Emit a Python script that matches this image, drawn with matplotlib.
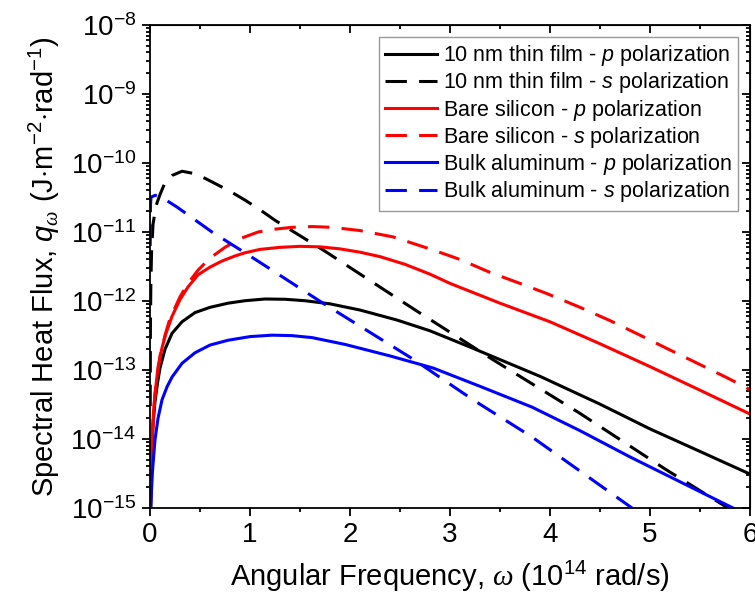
import matplotlib
matplotlib.use("Agg")
from matplotlib import pyplot as plt
from matplotlib.ticker import LogLocator, MultipleLocator, NullFormatter

plt.rcParams['font.family'] = ['Liberation Sans', 'DejaVu Sans']
plt.rcParams['mathtext.fontset'] = 'custom'
plt.rcParams['mathtext.rm'] = 'Liberation Sans'
plt.rcParams['mathtext.it'] = 'Liberation Sans:italic'
plt.rcParams['mathtext.cal'] = 'Liberation Serif:italic'  # serif omega as in the original

# 10 nm thin film
film_p_x = [0.006, 0.015, 0.03, 0.05, 0.075, 0.1, 0.15, 0.22, 0.32, 0.45, 0.6, 0.78, 0.95, 1.15, 1.35,
            1.55, 1.8, 2.1, 2.47, 2.8, 3.2, 3.9, 4.5, 5.0, 5.5, 6.0]
film_p_q = [1e-15, 5e-15, 1.6e-14, 3.5e-14, 6.5e-14, 1.07e-13, 2.0e-13, 3.4e-13, 5.0e-13, 6.8e-13,
            8.1e-13, 9.3e-13, 1.01e-12, 1.07e-12, 1.06e-12, 1.01e-12, 9.1e-13, 7.4e-13, 5.3e-13,
            3.7e-13, 2.15e-13, 8.1e-14, 3.2e-14, 1.4e-14, 6.6e-15, 3.1e-15]
film_s_x = [0.002, 0.004, 0.008, 0.015, 0.03, 0.06, 0.1, 0.15, 0.22, 0.32, 0.45, 0.55, 0.68, 0.8, 0.95,
            1.1, 1.25, 1.73, 2.64, 3.43, 4.29, 5.16, 5.78]
film_s_q = [3e-14, 4e-13, 1.6e-12, 5e-12, 1.3e-11, 2.4e-11, 3.5e-11, 5.2e-11, 6.6e-11, 7.6e-11, 7.0e-11,
            6.0e-11, 4.8e-11, 3.9e-11, 2.9e-11, 2.1e-11, 1.48e-11, 5.5e-12, 7.6e-13, 1.41e-13, 2.4e-14,
            3.6e-15, 1.0e-15]

# bare silicon
si_p_x = [0.005, 0.01, 0.02, 0.035, 0.05, 0.08, 0.12, 0.16, 0.22, 0.3, 0.38, 0.48, 0.6, 0.72, 0.85,
          0.95, 1.1, 1.3, 1.5, 1.7, 1.9, 2.1, 2.3, 2.55, 2.8, 3.0, 3.5, 4.0, 4.5, 5.0, 5.5, 6.0]
si_p_q = [1e-15, 3e-15, 1e-14, 2.5e-14, 4.5e-14, 1.1e-13, 2.1e-13, 3.4e-13, 6e-13, 1.05e-12, 1.6e-12,
          2.4e-12, 3.1e-12, 3.8e-12, 4.5e-12, 5.0e-12, 5.6e-12, 6.0e-12, 6.2e-12, 6.1e-12, 5.7e-12,
          5.1e-12, 4.4e-12, 3.4e-12, 2.45e-12, 1.8e-12, 9.3e-13, 5.0e-13, 2.4e-13, 1.12e-13, 5.1e-14, 2.3e-14]
si_s_x = [0.005, 0.01, 0.02, 0.05, 0.1, 0.15, 0.2, 0.3, 0.38, 0.48, 0.6, 0.75, 0.9, 1.08, 1.25, 1.42,
          1.62, 1.82, 2.1, 2.43, 2.83, 3.1, 3.4, 3.7, 3.97, 4.3, 4.6, 4.9, 5.2, 5.47, 5.78, 6.0]
si_s_q = [1e-15, 3e-15, 1e-14, 4.5e-14, 1.6e-13, 3.2e-13, 5.6e-13, 1.15e-12, 1.8e-12, 2.8e-12, 4.2e-12,
          6.0e-12, 8.0e-12, 1.0e-11, 1.1e-11, 1.17e-11, 1.2e-11, 1.17e-11, 1.05e-11, 8.5e-12, 5.5e-12,
          4.0e-12, 2.6e-12, 1.8e-12, 1.28e-12, 8.1e-13, 5.2e-13, 3.2e-13, 1.95e-13, 1.26e-13, 7.6e-14, 5.2e-14]

# bulk aluminum
al_p_x = [0.008, 0.015, 0.025, 0.05, 0.08, 0.12, 0.17, 0.22, 0.32, 0.45, 0.6, 0.78, 1.0, 1.22, 1.42,
          1.62, 1.95, 2.4, 2.83, 3.3, 3.82, 4.3, 4.8, 5.3, 5.83]
al_p_q = [1e-15, 1.8e-15, 3.5e-15, 9.8e-15, 2.0e-14, 3.7e-14, 5.7e-14, 7.9e-14, 1.25e-13, 1.78e-13,
          2.3e-13, 2.7e-13, 3.05e-13, 3.2e-13, 3.15e-13, 2.95e-13, 2.35e-13, 1.6e-13, 1.07e-13, 5.8e-14,
          2.9e-14, 1.32e-14, 5.5e-15, 2.4e-15, 1.0e-15]
al_s_x = [0.002, 0.005, 0.01, 0.05, 0.1, 0.27, 0.62, 0.95, 1.22, 1.73, 2.64, 3.23, 3.82, 4.82]
al_s_q = [6.3e-12, 2.5e-11, 3.2e-11, 3.4e-11, 3.3e-11, 2.3e-11, 1.0e-11, 5.0e-12, 2.8e-12, 9.3e-13,
          1.41e-13, 3.7e-14, 1.07e-14, 1.0e-15]

labels = ['10 nm thin film - $p$ polarization',
          '10 nm thin film - $s$ polarization',
          'Bare silicon - $p$ polarization',
          'Bare silicon - $s$ polarization',
          'Bulk aluminum - $p$ polarization',
          'Bulk aluminum - $s$ polarization']

yticks = [1e-15, 1e-14, 1e-13, 1e-12, 1e-11, 1e-10, 1e-9, 1e-8]
ytick_labels = ['$\\mathregular{10^{-15}}$', '$\\mathregular{10^{-14}}$', '$\\mathregular{10^{-13}}$',
                '$\\mathregular{10^{-12}}$', '$\\mathregular{10^{-11}}$', '$\\mathregular{10^{-10}}$',
                '$\\mathregular{10^{-9}}$', '$\\mathregular{10^{-8}}$']
xticks = [0, 1, 2, 3, 4, 5, 6]

DASH = (0, (7, 4))
LW = 2.2

fig = plt.figure(figsize=(7.55, 6.06), dpi=100)
ax = fig.add_axes([0.1987, 0.1617, 0.7947, 0.797])

ax.plot(film_p_x, film_p_q, color='black', lw=LW, label=labels[0])
ax.plot(film_s_x, film_s_q, color='black', lw=LW, ls=DASH, label=labels[1])
ax.plot(si_p_x, si_p_q, color='#ff0000', lw=LW, label=labels[2])
ax.plot(si_s_x, si_s_q, color='#ff0000', lw=LW, ls=DASH, label=labels[3])
ax.plot(al_p_x, al_p_q, color='#0000ff', lw=LW, label=labels[4])
ax.plot(al_s_x, al_s_q, color='#0000ff', lw=LW, ls=DASH, label=labels[5])

ax.set_yscale('log')
ax.set_xlim(0, 6)
ax.set_ylim(1e-15, 1e-8)
ax.set_xticks(xticks)
ax.xaxis.set_minor_locator(MultipleLocator(0.5))
ax.set_yticks(yticks, labels=ytick_labels)
ax.yaxis.set_minor_locator(LogLocator(base=10, subs=range(2, 10), numticks=20))
ax.yaxis.set_minor_formatter(NullFormatter())

for side in ax.spines.values():
    side.set_linewidth(1.3)
ax.tick_params(which='both', labelsize=20, width=1.3, direction='out', top=False, right=False)
ax.tick_params(which='major', length=6, pad=4)
ax.tick_params(which='minor', length=3)

# mirrored top/right ticks pointing inward
sec_x = ax.secondary_xaxis('top')
sec_x.set_xticks(xticks, labels=[])
sec_x.xaxis.set_minor_locator(MultipleLocator(0.5))
sec_x.tick_params(which='both', direction='in', width=1.3)
sec_x.tick_params(which='major', length=6)
sec_x.tick_params(which='minor', length=3)
sec_y = ax.secondary_yaxis('right')
sec_y.set_yticks(yticks, labels=[])
sec_y.yaxis.set_minor_locator(LogLocator(base=10, subs=range(2, 10), numticks=20))
sec_y.yaxis.set_minor_formatter(NullFormatter())
sec_y.tick_params(which='both', direction='in', width=1.3)
sec_y.tick_params(which='major', length=6)
sec_y.tick_params(which='minor', length=3)

ax.set_xlabel('Angular Frequency, $\\mathcal{\\omega}$ (10$^{14}$ rad/s)', fontsize=21, labelpad=8)
ax.set_ylabel('Spectral Heat Flux, $q_{\\mathcal{\\omega}}$ (J$\\cdot$m$^{-2}$$\\cdot$rad$^{-1}$)',
              fontsize=21, labelpad=6)

leg = ax.legend(loc='upper right', fontsize=15.5, fancybox=False, edgecolor='#808080',
                handlelength=2.4, handletextpad=0.3, labelspacing=0.1, borderpad=0.3,
                borderaxespad=0.55)
leg.get_frame().set_linewidth(1.0)

fig.savefig('out.png', dpi=100)
